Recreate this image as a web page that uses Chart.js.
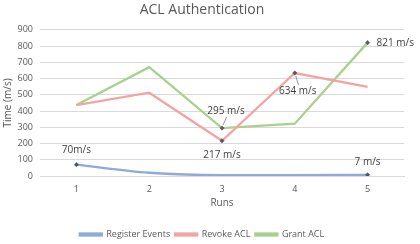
<!DOCTYPE html>
<html><head><meta charset="utf-8">
<script src="https://cdn.jsdelivr.net/npm/chart.js@4"></script>
<style>html,body{margin:0;padding:0;background:#fff}#w{width:420px;height:244px}</style>
</head><body><div id="w"><canvas id="c"></canvas></div>
<script>
const categories = ['1','2','3','4','5'];
const registerEvents = [70, 20, 5, 5, 7];
const revokeACL = [437, 513, 217, 634, 548];
const grantACL = [437, 670, 295, 322, 821];
const seriesNames = ['Register Events','Revoke ACL','Grant ACL'];
const yTicks = [0,100,200,300,400,500,600,700,800,900];
const labels = [
  {ds:0, i:0, text:'70m/s', dx:0, dy:-14, align:'center'},
  {ds:0, i:4, text:'7 m/s', dx:0, dy:-13, align:'center'},
  {ds:1, i:2, text:'217 m/s', dx:0, dy:14, align:'center'},
  {ds:1, i:3, text:'634 m/s', dx:3, dy:18, align:'center', leader:true},
  {ds:2, i:2, text:'295 m/s', dx:4, dy:-17, align:'center', leader:true},
  {ds:2, i:4, text:'821 m/s', dx:9, dy:1, align:'left'}
];
const markerIdx = [[0,4],[2,3],[2,4]];
function radii(d){ return categories.map((_,i)=> markerIdx[d].includes(i)?2.2:0); }
const font = "'Open Sans', sans-serif";
const txt = '#595959';
const labelPlugin = {
  id:'lbls',
  afterDatasetsDraw(chart){
    const ctx = chart.ctx;
    ctx.save();
    ctx.font = "10px " + font;
    ctx.fillStyle = '#404040';
    ctx.textBaseline = 'middle';
    labels.forEach(l=>{
      const p = chart.getDatasetMeta(l.ds).data[l.i];
      const x = p.x + l.dx, y = p.y + l.dy;
      if (l.leader){
        ctx.strokeStyle = '#7f7f7f'; ctx.lineWidth = 0.8;
        ctx.beginPath();
        const sy = l.dy>0?1:-1;
        ctx.moveTo(p.x+1, p.y+sy*3);
        ctx.lineTo(p.x+l.dx*0.9+1, y - sy*6);
        ctx.stroke();
      }
      ctx.textAlign = l.align;
      ctx.fillText(l.text, x, y);
    });
    ctx.restore();
  }
};
const pt = {pointStyle:'rectRot', pointBorderWidth:0.5};
new Chart(document.getElementById('c'), {
  type:'line',
  data:{
    labels: categories,
    datasets:[
      Object.assign({label:seriesNames[0], data:registerEvents, borderColor:'#8eaadb', backgroundColor:'#8eaadb', borderWidth:2.3, tension:0.4, cubicInterpolationMode:'monotone', pointRadius:radii(0), pointBackgroundColor:'#44546a', pointBorderColor:'#44546a'}, pt),
      Object.assign({label:seriesNames[1], data:revokeACL, borderColor:'#f4a3a3', backgroundColor:'#f4a3a3', borderWidth:2.3, tension:0, pointRadius:radii(1), pointBackgroundColor:'#595959', pointBorderColor:'#595959'}, pt),
      Object.assign({label:seriesNames[2], data:grantACL, borderColor:'#a9d08e', backgroundColor:'#a9d08e', borderWidth:2.3, tension:0, pointRadius:radii(2), pointBackgroundColor:'#595959', pointBorderColor:'#595959'}, pt)
    ]
  },
  options:{
    responsive:true, maintainAspectRatio:false, animation:false,
    layout:{padding:{left:0,right:16,top:0,bottom:-5}},
    plugins:{
      title:{display:true, text:'ACL Authentication', color:txt, font:{family:font, size:14, weight:'normal'}, padding:{top:2,bottom:11}},
      legend:{position:'bottom', labels:{color:txt, font:{family:font,size:9}, boxWidth:22, boxHeight:2, padding:5}},
      tooltip:{enabled:false}
    },
    scales:{
      x:{offset:true, grid:{display:false, drawTicks:false}, border:{color:'#d9d9d9'}, ticks:{color:txt, font:{family:font,size:9}, padding:8},
         title:{display:true, text:'Runs', color:txt, font:{family:font,size:10}, padding:{top:0,bottom:16}},
         afterFit(s){ s.height = 49; }},
      y:{min:0, max:900, afterBuildTicks(s){ s.ticks = yTicks.map(v=>({value:v})); },
         grid:{color:'#d9d9d9', drawTicks:false}, border:{display:false}, ticks:{color:txt, font:{family:font,size:9}, padding:7, autoSkip:false},
         title:{display:true, text:'Time (m/s)', color:txt, font:{family:font,size:10}, padding:{top:2,bottom:2}},
         afterFit(s){ s.width = 40; }}
    }
  },
  plugins:[labelPlugin]
});
</script></body></html>
